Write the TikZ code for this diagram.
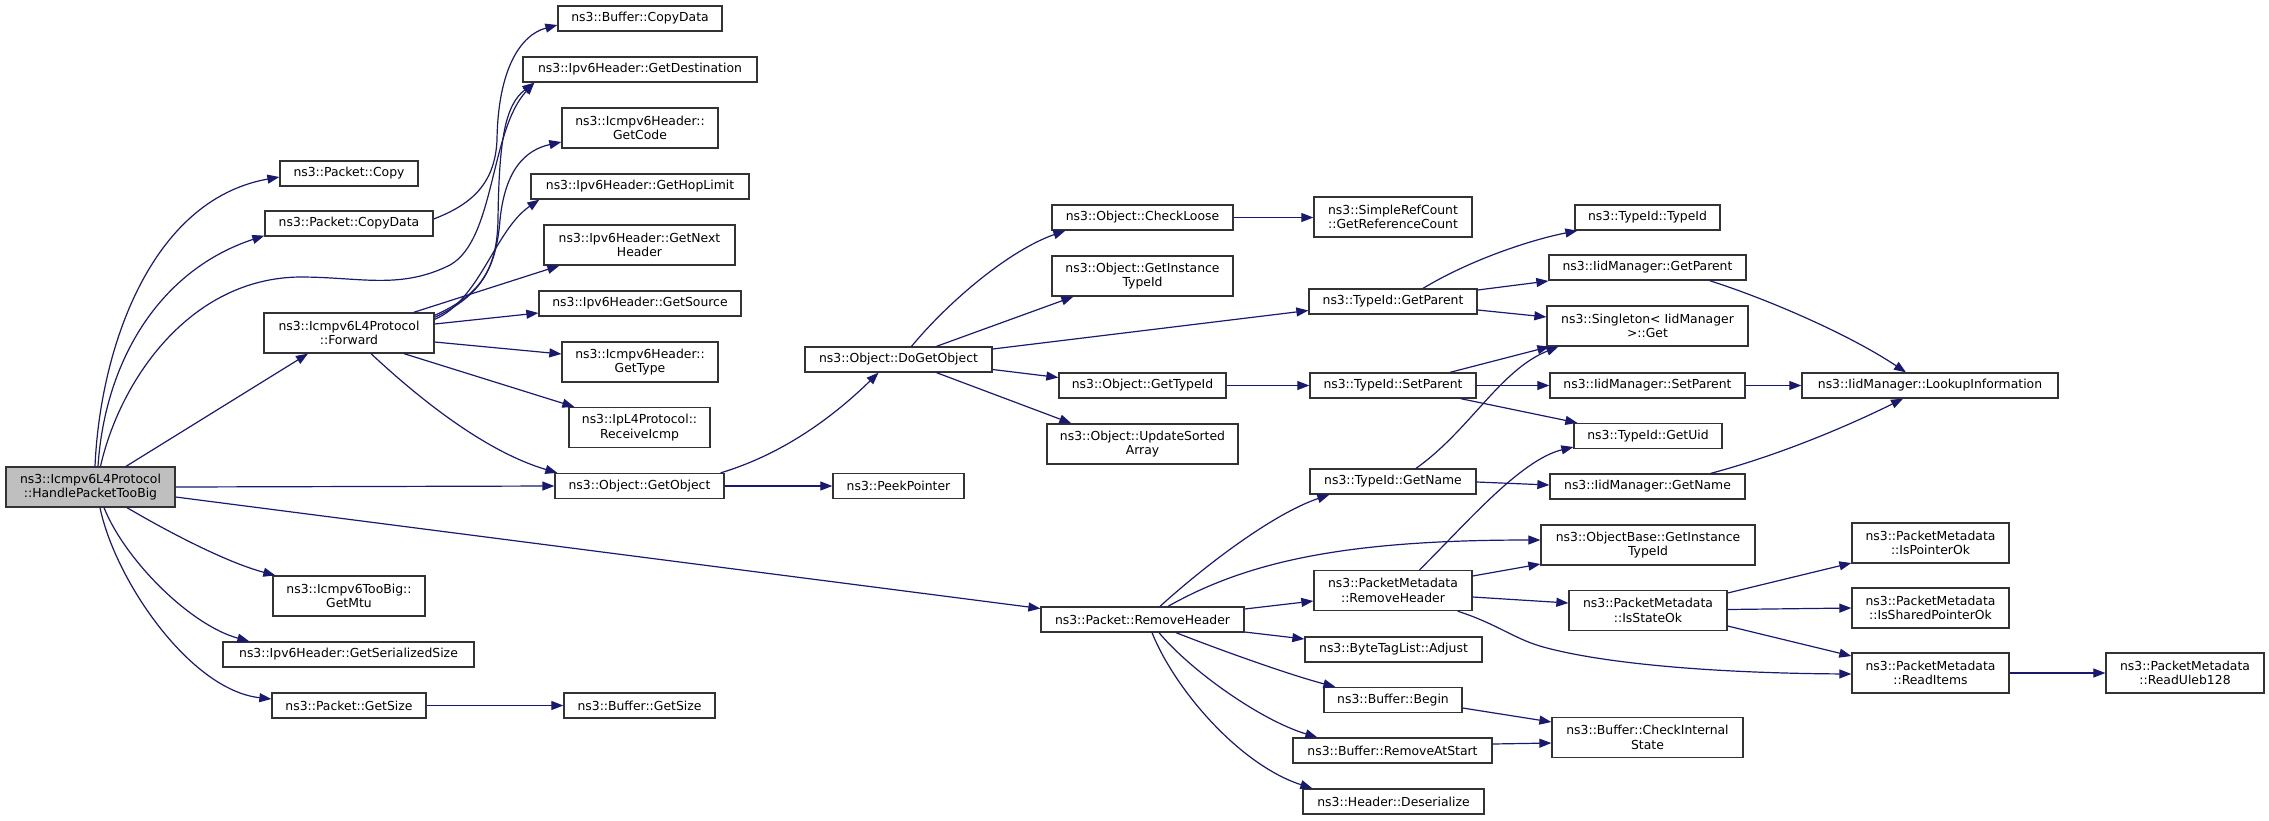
\documentclass[tikz,border=0pt]{standalone}
\usepackage{fontspec}
\setmainfont{DejaVu Sans}
\usetikzlibrary{arrows.meta}
\definecolor{edgeblue}{RGB}{25,25,112}
\definecolor{rootgray}{RGB}{191,191,191}
\begin{document}
\begin{tikzpicture}[x=1pt,y=-1pt,
  fn/.style={draw=black!80, line width=1.3pt, fill=white, inner sep=0pt, align=center,
    font=\fontsize{12.4}{14.3}\selectfont, text=black},
  one/.style={fn, minimum height=25pt},
  two/.style={fn, minimum height=40pt},
  rootnode/.style={two, fill=rootgray},
  call/.style={draw=edgeblue, line width=1.2pt, -{Triangle[length=12pt,width=9pt]}}]
\useasboundingbox (0,0) rectangle (2269,820);

% column 0
\node[rootnode, minimum width=169pt] (root) at (90.5,487) {ns3::Icmpv6L4Protocol\\::HandlePacketTooBig};
% column 1
\node[one, minimum width=138pt] (pcopy) at (349,173.5) {ns3::Packet::Copy};
\node[one, minimum width=168pt] (pcopydata) at (349,223.5) {ns3::Packet::CopyData};
\node[two, minimum width=170pt] (fwd) at (349,333) {ns3::Icmpv6L4Protocol\\::Forward};
\node[two, minimum width=152pt] (mtu) at (349,596) {ns3::Icmpv6TooBig::\\GetMtu};
\node[one, minimum width=251pt] (sersize) at (348.5,654.5) {ns3::Ipv6Header::GetSerializedSize};
\node[one, minimum width=154pt] (pgetsize) at (349,705.5) {ns3::Packet::GetSize};
% column 2
\node[one, minimum width=164pt] (bcopydata) at (640,18.5) {ns3::Buffer::CopyData};
\node[one, minimum width=234pt] (getdest) at (640,69.5) {ns3::Ipv6Header::GetDestination};
\node[two, minimum width=156pt] (getcode) at (640,128) {ns3::Icmpv6Header::\\GetCode};
\node[one, minimum width=218pt] (hoplimit) at (640,186.5) {ns3::Ipv6Header::GetHopLimit};
\node[two, minimum width=191pt] (nexthdr) at (639.5,245) {ns3::Ipv6Header::GetNext\\Header};
\node[one, minimum width=202pt] (getsource) at (640,303.5) {ns3::Ipv6Header::GetSource};
\node[two, minimum width=156pt] (gettype) at (640,362) {ns3::Icmpv6Header::\\GetType};
\node[two, minimum width=141pt] (recvicmp) at (639.5,427.5) {ns3::IpL4Protocol::\\ReceiveIcmp};
\node[one, minimum width=169pt] (getobj) at (639.5,486) {ns3::Object::GetObject};
\node[one, minimum width=151pt] (bgetsize) at (639.5,705.5) {ns3::Buffer::GetSize};
% column 3
\node[one, minimum width=187pt] (dogetobj) at (898.5,359.5) {ns3::Object::DoGetObject};
\node[one, minimum width=131pt] (peek) at (898.5,486) {ns3::PeekPointer};
% column 4
\node[one, minimum width=181pt] (checkloose) at (1142.5,217.5) {ns3::Object::CheckLoose};
\node[two, minimum width=181pt] (oginst) at (1142.5,276) {ns3::Object::GetInstance\\TypeId};
\node[one, minimum width=167pt] (ogettypeid) at (1142.5,385.5) {ns3::Object::GetTypeId};
\node[two, minimum width=191pt] (updsorted) at (1142.5,444) {ns3::Object::UpdateSorted\\Array};
\node[one, minimum width=203pt] (premhdr) at (1142.5,619.5) {ns3::Packet::RemoveHeader};
% column 5
\node[two, minimum width=158pt] (refcount) at (1393,217) {ns3::SimpleRefCount\\::GetReferenceCount};
\node[one, minimum width=168pt] (tgetparent) at (1393,301.5) {ns3::TypeId::GetParent};
\node[one, minimum width=166pt] (tsetparent) at (1393,385.5) {ns3::TypeId::SetParent};
\node[one, minimum width=166pt] (tgetname) at (1393,481.5) {ns3::TypeId::GetName};
\node[two, minimum width=158pt] (pmremhdr) at (1393,590.5) {ns3::PacketMetadata\\::RemoveHeader};
\node[one, minimum width=177pt] (adjust) at (1393.5,649.5) {ns3::ByteTagList::Adjust};
\node[one, minimum width=138pt] (begin) at (1393,700) {ns3::Buffer::Begin};
\node[one, minimum width=199pt] (removeatstart) at (1392.5,750.5) {ns3::Buffer::RemoveAtStart};
\node[one, minimum width=181pt] (deser) at (1393.5,801.5) {ns3::Header::Deserialize};
% column 6
\node[one, minimum width=145pt] (typeidtypeid) at (1647.5,217.5) {ns3::TypeId::TypeId};
\node[one, minimum width=197pt] (iidgetparent) at (1647.5,267.5) {ns3::IidManager::GetParent};
\node[two, minimum width=201pt] (singleton) at (1647.5,326) {ns3::Singleton< IidManager\\>::Get};
\node[one, minimum width=195pt] (iidsetparent) at (1647.5,385.5) {ns3::IidManager::SetParent};
\node[one, minimum width=148pt] (getuid) at (1648,436) {ns3::TypeId::GetUid};
\node[one, minimum width=195pt] (iidgetname) at (1647.5,486.5) {ns3::IidManager::GetName};
\node[two, minimum width=214pt] (obinst) at (1648,545) {ns3::ObjectBase::GetInstance\\TypeId};
\node[two, minimum width=158pt] (isstateok) at (1648,610.5) {ns3::PacketMetadata\\::IsStateOk};
\node[two, minimum width=191pt] (checkint) at (1647.5,737.5) {ns3::Buffer::CheckInternal\\State};
% column 7
\node[one, minimum width=256pt] (lookup) at (1930,385.5) {ns3::IidManager::LookupInformation};
\node[two, minimum width=157pt] (ispointer) at (1930.5,543) {ns3::PacketMetadata\\::IsPointerOk};
\node[two, minimum width=157pt] (isshared) at (1930.5,608) {ns3::PacketMetadata\\::IsSharedPointerOk};
\node[two, minimum width=157pt] (readitems) at (1930.5,673) {ns3::PacketMetadata\\::ReadItems};
% column 8
\node[two, minimum width=158pt] (uleb) at (2185,673) {ns3::PacketMetadata\\::ReadUleb128};

% edges from root
\draw[call] ([xshift=4.5]root.north) .. controls (100,350) and (150,200) .. ([yshift=-3.5]pcopy.west);
\draw[call] ([xshift=7.5]root.north) .. controls (105,360) and (160,270) .. ([yshift=1]pcopydata.south west);
\draw[call] ([xshift=10]root.north) .. controls (120,380) and (190,278) .. (300,277)
  .. controls (360,277) and (400,290) .. (450,265)
  .. controls (495,240) and (490,130) .. ([xshift=12]getdest.south west);
\draw[call] ([xshift=35.5]root.north) -- ([xshift=-41]fwd.south);
\draw[call] (root.east) -- (getobj.west);
\draw[call] ([yshift=-10]root.east) -- ([yshift=11]premhdr.west);
\draw[call] ([xshift=36.5]root.south) .. controls (165,530) and (225,562) .. ([xshift=3]mtu.north west);
\draw[call] ([xshift=13.5]root.south) .. controls (125,560) and (190,625) .. ([xshift=27]sersize.north west);
\draw[call] ([xshift=9.5]root.south) .. controls (115,580) and (190,690) .. ([yshift=6.5]pgetsize.west);

% Packet::CopyData
\draw[call] ([yshift=4.5]pcopydata.east) .. controls (470,205) and (495,185) .. (497,140)
  .. controls (498,70) and (520,35) .. ([yshift=-6.5]bcopydata.west);
\draw[call] (pgetsize.east) -- (bgetsize.west);

% Forward
\draw[call] ([yshift=-3]fwd.north east) .. controls (480,295) and (497,270) .. (498,220)
  .. controls (499,140) and (505,105) .. ([xshift=12]getdest.south west);
\draw[call] ([yshift=-5]fwd.north east) .. controls (480,296) and (496,270) .. (500,220)
  .. controls (505,170) and (525,150) .. ([yshift=-14]getcode.west);
\draw[call] ([yshift=-7]fwd.north east) .. controls (480,300) and (495,230) .. ([xshift=9]hoplimit.south west);
\draw[call] ([xshift=-21]fwd.north east) -- ([xshift=16]nexthdr.south west);
\draw[call] ([yshift=9]fwd.east) -- ([yshift=-9.5]getsource.west);
\draw[call] ([yshift=-9]fwd.east) -- ([yshift=8]gettype.west);
\draw[call] ([xshift=55]fwd.south) -- ([xshift=6]recvicmp.north west);
\draw[call] ([xshift=22]fwd.south) .. controls (410,390) and (480,450) .. ([xshift=3]getobj.north west);

% GetObject
\draw[call] ([xshift=-4]getobj.north east) .. controls (780,455) and (830,420) .. ([xshift=-20]dogetobj.south);
\draw[call] (getobj.east) -- (peek.west);

% DoGetObject
\draw[call] ([xshift=13]dogetobj.north) .. controls (950,300) and (1010,250) .. ([xshift=14]checkloose.south west);
\draw[call] ([xshift=38]dogetobj.north) -- ([xshift=22]oginst.south west);
\draw[call] ([yshift=10.5]dogetobj.east) -- ([yshift=-9]tgetparent.west);
\draw[call] ([yshift=-10]dogetobj.east) -- ([yshift=8]ogettypeid.west);
\draw[call] ([xshift=38]dogetobj.south) -- ([xshift=25]updsorted.north west);

\draw[call] (checkloose.east) -- (refcount.west |- checkloose.east);
\draw[call] (ogettypeid.east) -- (tsetparent.west);

% TypeId::GetParent
\draw[call] ([xshift=30]tgetparent.north) .. controls (1470,260) and (1530,240) .. ([xshift=3]typeidtypeid.south west);
\draw[call] ([yshift=11.5]tgetparent.east) -- ([yshift=-13.5]iidgetparent.west);
\draw[call] ([yshift=-8.5]tgetparent.east) -- ([yshift=9]singleton.west);

% TypeId::SetParent
\draw[call] ([xshift=57]tsetparent.north) -- ([xshift=3]singleton.south west);
\draw[call] (tsetparent.east) -- (iidsetparent.west);
\draw[call] ([xshift=-16]tsetparent.south east) -- ([xshift=4]getuid.north west);

% IidManager -> LookupInformation
\draw[call] ([xshift=-37]iidgetparent.south east) .. controls (1770,300) and (1850,335) .. ([xshift=-24]lookup.north);
\draw[call] (iidsetparent.east) -- (lookup.west);
\draw[call] ([xshift=-35]iidgetname.north east) .. controls (1780,455) and (1850,425) .. ([xshift=-27]lookup.south);

% TypeId::GetName
\draw[call] ([xshift=23]tgetname.north) .. controls (1470,430) and (1500,370) .. ([xshift=12]singleton.south west);
\draw[call] ([yshift=-0.5]tgetname.east) -- ([yshift=1.5]iidgetname.west);

% Packet::RemoveHeader
\draw[call] ([xshift=17.5]premhdr.north) .. controls (1200,570) and (1270,515) .. ([xshift=20]tgetname.south west);
\draw[call] ([xshift=25.5]premhdr.north) .. controls (1250,560) and (1350,540) .. ([yshift=5]obinst.west);
\draw[call] ([yshift=10.5]premhdr.east) -- ([yshift=-10.5]pmremhdr.west);
\draw[call] ([yshift=-12.5]premhdr.east) -- ([yshift=10.5]adjust.west);
\draw[call] ([xshift=33.5]premhdr.south) .. controls (1220,650) and (1290,675) .. ([xshift=12]begin.north west);
\draw[call] ([xshift=16.5]premhdr.south) .. controls (1190,670) and (1260,720) .. ([xshift=25]removeatstart.north west);
\draw[call] ([xshift=9.5]premhdr.south) .. controls (1175,690) and (1240,765) .. ([xshift=10]deser.north west);

% PacketMetadata::RemoveHeader
\draw[call] ([xshift=26.5]pmremhdr.north) .. controls (1465,525) and (1520,460) .. ([yshift=-11]getuid.west);
\draw[call] ([yshift=14.5]pmremhdr.east) -- ([yshift=-19]obinst.west);
\draw[call] ([yshift=-6.5]pmremhdr.east) -- ([yshift=7.5]isstateok.west);
\draw[call] ([xshift=-15]pmremhdr.south east) .. controls (1500,625) and (1515,640) .. (1547,648)
  .. controls (1600,662) and (1700,673) .. ([yshift=-1]readitems.west);

% IsStateOk
\draw[call] ([yshift=17.5]isstateok.east) -- ([yshift=-20]ispointer.west);
\draw[call] ([yshift=1]isstateok.east) -- (isshared.west);
\draw[call] ([yshift=-15.5]isstateok.east) -- ([yshift=17]readitems.west);
\draw[call] (readitems.east) -- (uleb.west);

% Buffer
\draw[call] ([yshift=-8]begin.east) -- ([yshift=15.5]checkint.west);
\draw[call] ([yshift=6.5]removeatstart.east) -- ([yshift=-5.5]checkint.west);
\end{tikzpicture}
\end{document}
